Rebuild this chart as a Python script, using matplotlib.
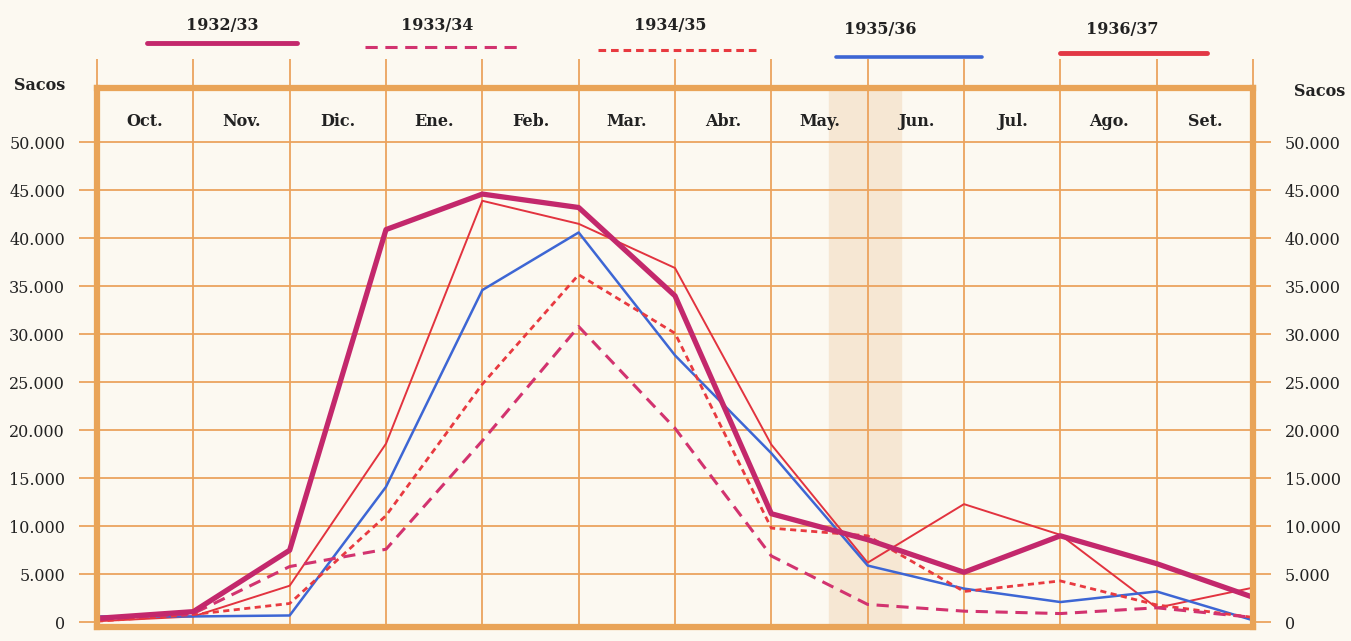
import matplotlib.pyplot as plt
from matplotlib.lines import Line2D

# puntos en los limites de cada mes (Oct ... Set + cierre)
pos = list(range(13))
meses = ["Oct.", "Nov.", "Dic.", "Ene.", "Feb.", "Mar.", "Abr.", "May.",
         "Jun.", "Jul.", "Ago.", "Set."]

s1932 = [400, 1100, 7500, 40900, 44600, 43200, 34000, 11300, 8600, 5200, 9000, 6100, 2600]
s1933 = [300, 900, 5800, 7600, 18900, 30800, 20200, 6900, 1850, 1150, 900, 1500, 500]
s1934 = [100, 800, 1950, 11100, 24800, 36200, 30100, 9800, 9000, 3200, 4300, 1800, 500]
s1935 = [600, 600, 700, 14100, 34600, 40600, 27800, 17600, 5900, 3500, 2100, 3200, 200]
s1936 = [100, 600, 3800, 18600, 43900, 41500, 36900, 18500, 6200, 12300, 9100, 1500, 3600]

y_ticks = list(range(0, 50001, 5000))
y_labels = ["0"] + [f"{v // 1000}.000" for v in y_ticks[1:]]

naranja = "#eba35e"
marco = "#e9a458"
fondo = "#fcf9f1"

fig = plt.figure(figsize=(13.51, 6.41), dpi=100, facecolor=fondo)
ax = fig.add_axes([97 / 1351, 14 / 641, 1156 / 1351, 539 / 641])
ax.set_facecolor(fondo)

# mancha del papel
ax.axvspan(7.6, 8.35, color="#f6e7d3", zorder=0)

ax.set_xlim(0, 12)
ax.set_ylim(-500, 55650)

for x in pos:
    ax.axvline(x, color=naranja, lw=1.3, zorder=1)
for y in y_ticks[1:]:
    ax.axhline(y, color=naranja, lw=1.3, zorder=1)

for sp in ax.spines.values():
    sp.set_color(marco)
    sp.set_linewidth(4.5)
    sp.set_zorder(5)

ax.set_xticks(pos)
ax.set_xticklabels([])
ax.tick_params(axis="x", bottom=False, top=True, direction="out",
               length=21, width=1.3, color=naranja)
ax.set_yticks(y_ticks)
ax.set_yticklabels(y_labels, fontsize=11.5, family="DejaVu Serif", color="#222222")
ax.tick_params(axis="y", left=True, right=True, labelleft=True, labelright=True,
               direction="out", length=13, width=1.3, color=naranja, pad=10)

for i, m in enumerate(meses):
    ax.text(i + 0.5, 52200, m, ha="center", va="center", fontsize=11.5,
            family="DejaVu Serif", fontweight="bold", color="#222222")

ax.plot(pos, s1936, color="#e2333f", lw=1.4, zorder=3)
ax.plot(pos, s1935, color="#3d66d4", lw=1.8, zorder=3)
ax.plot(pos, s1934, color="#e83a40", lw=2.0, dashes=(2.2, 1.6), zorder=3)
ax.plot(pos, s1933, color="#d2336f", lw=2.2, dashes=(4, 2.5), zorder=3)
ax.plot(pos, s1932, color="#c3286c", lw=3.8, zorder=4, solid_joinstyle="round")

fig.text(40 / 1351, 1 - 85 / 641, "Sacos", ha="center", va="center", fontsize=11.5,
         family="DejaVu Serif", fontweight="bold", color="#222222")
fig.text(1320 / 1351, 1 - 92 / 641, "Sacos", ha="center", va="center", fontsize=11.5,
         family="DejaVu Serif", fontweight="bold", color="#222222")

# leyenda dibujada a mano arriba
leyenda = [
    ("1932/33", 222, 25, 147, 297, 43, dict(color="#c3286c", lw=3.5)),
    ("1933/34", 437, 25, 365, 518, 47, dict(color="#d2336f", lw=2.2, dashes=(4, 2.5))),
    ("1934/35", 670, 25, 598, 760, 50, dict(color="#e83a40", lw=2.2, dashes=(2.5, 1.6))),
    ("1935/36", 880, 30, 836, 982, 57, dict(color="#3d66d4", lw=2.6)),
    ("1936/37", 1122, 30, 1060, 1207, 53, dict(color="#e23845", lw=3.5)),
]
for txt, tx, ty, x0, x1, ly, estilo in leyenda:
    fig.text(tx / 1351, 1 - ty / 641, txt, ha="center", va="center", fontsize=11.5,
             family="DejaVu Serif", fontweight="bold", color="#222222")
    fig.add_artist(Line2D([x0 / 1351, x1 / 1351], [1 - ly / 641, 1 - ly / 641],
                          transform=fig.transFigure, solid_capstyle="round", **estilo))

fig.savefig("out.png", dpi=100, facecolor=fondo)
